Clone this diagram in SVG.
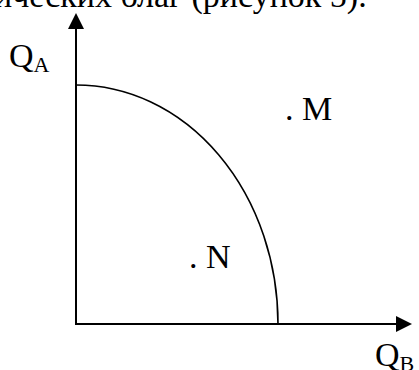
<svg xmlns="http://www.w3.org/2000/svg" width="419" height="370" viewBox="0 0 419 370">
<style>
.t{font-family:"Liberation Serif","Times New Roman",serif;fill:#000;font-size:34px}
.s{font-size:22px}
.ax{stroke:#000;stroke-width:2;fill:none}
.cv{stroke:#000;stroke-width:1.6;fill:none}
</style>
<rect width="419" height="370" fill="#fff"/>
<text class="t" x="-6" y="7">ических благ (рисунок 5).</text>
<g id="connectors">
<line class="ax" x1="76" y1="324" x2="76" y2="26"/>
<polygon points="76,13 68,29 84,29" fill="#000"/>
<line class="ax" x1="75" y1="324" x2="398" y2="324"/>
<polygon points="412,324 396,316 396,332" fill="#000"/>
<path class="cv" d="M76,85 A202,239 0 0 1 278,324"/>
</g>
<g id="label-QA"><text class="t" x="9" y="67">Q<tspan class="s" dy="5">A</tspan></text></g>
<g id="label-M"><text class="t" x="285" y="120">. M</text></g>
<g id="label-N"><text class="t" x="189" y="268">. N</text></g>
<g id="label-QB"><text class="t" x="375" y="366">Q<tspan class="s" dy="5">B</tspan></text></g>
</svg>
